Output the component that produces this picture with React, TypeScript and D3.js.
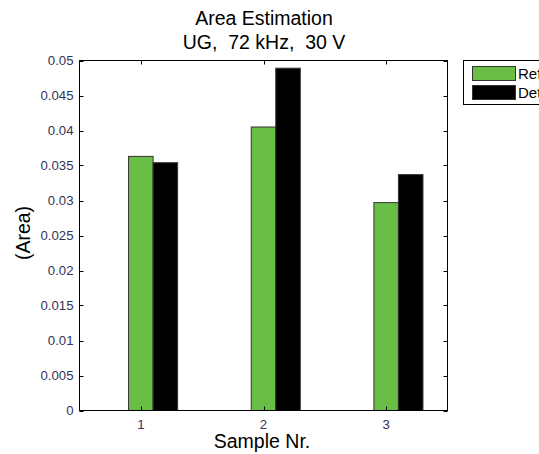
import React from "react";
import * as d3 from "d3";

const categories = ["1", "2", "3"];
const seriesNames = ["Reference", "Detected"];
const referenceValues = [0.0363, 0.0405, 0.0297];
const detectedValues = [0.0354, 0.0489, 0.0337];
const yTicks = [0, 0.005, 0.01, 0.015, 0.02, 0.025, 0.03, 0.035, 0.04, 0.045, 0.05];
const yTickLabels = ["0", "0.005", "0.01", "0.015", "0.02", "0.025", "0.03", "0.035", "0.04", "0.045", "0.05"];
const colors = ["#6abd45", "#000000"];

export default function App() {
  const W = 539, H = 454;
  const L = 79.5, R = 447.5, T = 60.5, B = 410.5;
  const x = d3.scaleLinear().domain([0.5, 3.5]).range([L, R]);
  const y = d3.scaleLinear().domain([0, 0.05]).range([B, T]);
  const series = [referenceValues, detectedValues];
  const barW = 0.2;
  const font = "Liberation Sans, Arial, sans-serif";
  const tickColor = "#34345a";
  return (
    <svg width={W} height={H} style={{ position: "absolute", left: 0, top: 0, background: "#fff" }} fontFamily={font}>
      <text x={264} y={25} textAnchor="middle" fontSize={19.5} fill="#000">Area Estimation</text>
      <text x={264} y={49} textAnchor="middle" fontSize={19.5} fill="#000" style={{ whiteSpace: "pre" }}>{"UG,  72 kHz,  30 V"}</text>
      {series.map((vals, s) =>
        vals.map((v, i) => {
          const cx = i + 1;
          const x0 = x(cx - barW / 2 + s * barW);
          const x1 = x(cx + barW / 2 + s * barW);
          return (
            <rect key={`${s}-${i}`} x={x0} y={y(v)} width={x1 - x0} height={B - y(v)}
              fill={colors[s]} stroke="#333" strokeWidth={1} />
          );
        })
      )}
      <rect x={L} y={T} width={R - L} height={B - T} fill="none" stroke="#000" strokeWidth={1} />
      {yTicks.map((t, i) => (
        <g key={i}>
          <line x1={L} x2={L + 4} y1={Math.round(y(t)) + 0.5} y2={Math.round(y(t)) + 0.5} stroke="#000" />
          <line x1={R} x2={R - 4} y1={Math.round(y(t)) + 0.5} y2={Math.round(y(t)) + 0.5} stroke="#000" />
          <text x={L - 6} y={y(t) + 4.5} textAnchor="end" fontSize={13.2} fill={tickColor}>{yTickLabels[i]}</text>
        </g>
      ))}
      {categories.map((c, i) => (
        <g key={c}>
          <line x1={Math.round(x(i + 1)) + 0.5} x2={Math.round(x(i + 1)) + 0.5} y1={B} y2={B - 4} stroke="#000" />
          <line x1={Math.round(x(i + 1)) + 0.5} x2={Math.round(x(i + 1)) + 0.5} y1={T} y2={T + 4} stroke="#000" />
          <text x={x(i + 1)} y={B + 18} textAnchor="middle" fontSize={13.2} fill={tickColor}>{c}</text>
        </g>
      ))}
      <text x={262} y={448} textAnchor="middle" fontSize={19.5} fill="#000">Sample Nr.</text>
      <text transform={`translate(30, 233) rotate(-90)`} textAnchor="middle" fontSize={19.5} fill="#000">(Area)</text>
      <g>
        <rect x={463.5} y={60.5} width={100} height={44} fill="#fff" stroke="#000" />
        {seriesNames.map((n, i) => (
          <g key={n}>
            <rect x={472.5} y={66.5 + i * 19} width={43} height={14} fill={colors[i]} stroke="#333" />
            <text x={518} y={79 + i * 19} fontSize={15} fill="#000">{n}</text>
          </g>
        ))}
      </g>
    </svg>
  );
}
